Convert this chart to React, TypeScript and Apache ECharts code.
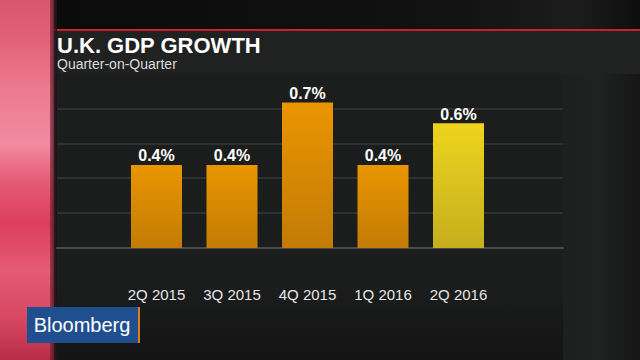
import React, { useEffect, useRef } from "react";
import * as echarts from "echarts";

const categories = ["2Q 2015", "3Q 2015", "4Q 2015", "1Q 2016", "2Q 2016"];
const growth = [0.4, 0.4, 0.7, 0.4, 0.6];
const highlight = [false, false, false, false, true];
const yMax = 0.84;
const yInterval = 0.168;
const titleText = "U.K. GDP GROWTH";
const subtitleText = "Quarter-on-Quarter";
const brandText = "Bloomberg";

const orangeFill = {
  type: "linear", x: 0, y: 0, x2: 0, y2: 1,
  colorStops: [
    { offset: 0, color: "#ea9500" },
    { offset: 1, color: "#c27b06" },
  ],
};
const yellowFill = {
  type: "linear", x: 0, y: 0, x2: 0, y2: 1,
  colorStops: [
    { offset: 0, color: "#eed41e" },
    { offset: 1, color: "#c6ae1e" },
  ],
};

export default function App() {
  const ref = useRef<HTMLDivElement>(null);
  useEffect(() => {
    if (!ref.current) return;
    const chart = echarts.init(ref.current, null, { renderer: "svg" });
    const option: any = {
      animation: false,
      backgroundColor: "#121212",
      graphic: [
        {
          type: "rect", z: -20, silent: true,
          shape: { x: 0, y: 0, width: 640, height: 30 },
          style: {
            fill: {
              type: "linear", x: 0, y: 0, x2: 1, y2: 0,
              colorStops: [
                { offset: 0, color: "#0a0a0a" },
                { offset: 0.7, color: "#121212" },
                { offset: 0.9, color: "#1c1c1c" },
                { offset: 1, color: "#0e0e0e" },
              ],
            },
          },
        },
        {
          type: "rect", z: -20, silent: true,
          shape: { x: 563, y: 31, width: 77, height: 329 },
          style: {
            fill: {
              type: "linear", x: 0, y: 0, x2: 1, y2: 0,
              colorStops: [
                { offset: 0, color: "#1e1f1f" },
                { offset: 0.5, color: "#202121" },
                { offset: 1, color: "#151515" },
              ],
            },
          },
        },
        {
          type: "rect", z: -15, silent: true,
          shape: { x: 52, y: 31, width: 588, height: 43 },
          style: { fill: "#202121" },
        },
        {
          type: "rect", z: -14, silent: true,
          shape: { x: 52, y: 29, width: 588, height: 2 },
          style: { fill: "#c8202c" },
        },
        {
          type: "rect", z: -15, silent: true,
          shape: { x: 57, y: 74, width: 506, height: 286 },
          style: {
            fill: {
              type: "linear", x: 0, y: 0, x2: 0, y2: 1,
              colorStops: [
                { offset: 0, color: "#1c1d1d" },
                { offset: 0.75, color: "#1b1c1c" },
                { offset: 1, color: "#141414" },
              ],
            },
          },
        },
        {
          type: "rect", z: -12, silent: true,
          shape: { x: 0, y: 0, width: 54, height: 360 },
          style: {
            fill: {
              type: "linear", x: 0, y: 0, x2: 0, y2: 1,
              colorStops: [
                { offset: 0, color: "#d8566e" },
                { offset: 0.1, color: "#e25f78" },
                { offset: 0.25, color: "#ec7a90" },
                { offset: 0.4, color: "#f28ba0" },
                { offset: 0.5, color: "#e65c78" },
                { offset: 0.62, color: "#dc3e5c" },
                { offset: 0.75, color: "#e55a74" },
                { offset: 0.88, color: "#d84863" },
                { offset: 1, color: "#b82c48" },
              ],
            },
          },
        },
        {
          type: "rect", z: -11, silent: true,
          shape: { x: 50, y: 0, width: 7, height: 360 },
          style: {
            fill: {
              type: "linear", x: 0, y: 0, x2: 1, y2: 0,
              colorStops: [
                { offset: 0, color: "rgba(120,30,50,0.6)" },
                { offset: 1, color: "rgba(20,20,20,0.9)" },
              ],
            },
          },
        },
        {
          type: "text", z: 5, x: 57, y: 45,
          style: {
            text: titleText,
            fill: "#ffffff",
            font: "bold 22px 'Liberation Sans', Arial, sans-serif",
            verticalAlign: "middle",
          },
        },
        {
          type: "text", z: 5, x: 57, y: 64,
          style: {
            text: subtitleText,
            fill: "#dcdcdc",
            font: "14px 'Liberation Sans', Arial, sans-serif",
            verticalAlign: "middle",
          },
        },
        {
          type: "rect", z: 5, silent: true,
          shape: { x: 27, y: 307, width: 111, height: 36 },
          style: { fill: "#1f4f8e" },
        },
        {
          type: "rect", z: 5, silent: true,
          shape: { x: 138, y: 307, width: 2, height: 36 },
          style: { fill: "#e07a22" },
        },
        {
          type: "text", z: 6, x: 82, y: 325,
          style: {
            text: brandText,
            fill: "#ffffff",
            font: "20px 'Liberation Sans', Arial, sans-serif",
            align: "center",
            verticalAlign: "middle",
          },
        },
      ],
      grid: [
        { left: 57, width: 506, top: 73.5, height: 174.5 },
        { left: 118.75, width: 377.5, top: 73.5, height: 174.5 },
      ],
      xAxis: [
        {
          gridIndex: 0, type: "value", min: 0, max: 1,
          axisLine: { show: true, onZero: false, lineStyle: { color: "#4a4b4b", width: 2 } },
          axisTick: { show: false }, axisLabel: { show: false }, splitLine: { show: false },
        },
        {
          gridIndex: 1, type: "category", data: categories,
          axisLine: { show: false }, axisTick: { show: false },
          axisLabel: {
            color: "#e6e6e6", fontSize: 15, margin: 39,
            fontFamily: "'Liberation Sans', Arial, sans-serif",
          },
        },
      ],
      yAxis: [
        {
          gridIndex: 0, type: "value", min: 0, max: yMax, interval: yInterval,
          axisLine: { show: false }, axisTick: { show: false }, axisLabel: { show: false },
          splitLine: {
            show: true,
            lineStyle: {
              color: ["#2f3030", "#2f3030", "#2f3030", "#2f3030", "#2f3030", "rgba(0,0,0,0)"],
              width: 2,
            },
          },
        },
        {
          gridIndex: 1, type: "value", min: 0, max: yMax, interval: yInterval,
          axisLine: { show: false }, axisTick: { show: false }, axisLabel: { show: false },
          splitLine: { show: false },
        },
      ],
      series: [
        {
          type: "bar",
          xAxisIndex: 1, yAxisIndex: 1,
          barWidth: 51,
          data: growth.map((v, i) => ({
            value: v,
            itemStyle: { color: highlight[i] ? yellowFill : orangeFill },
          })),
          label: {
            show: true, position: "top", distance: 1,
            color: "#ffffff", fontSize: 16, fontWeight: "bold",
            fontFamily: "'Liberation Sans', Arial, sans-serif",
            formatter: (p: any) => p.value.toFixed(1) + "%",
          },
        },
      ],
    };
    chart.setOption(option);
    return () => chart.dispose();
  }, []);
  return <div ref={ref} style={{ width: 640, height: 360, position: "fixed", left: 0, top: 0 }} />;
}
